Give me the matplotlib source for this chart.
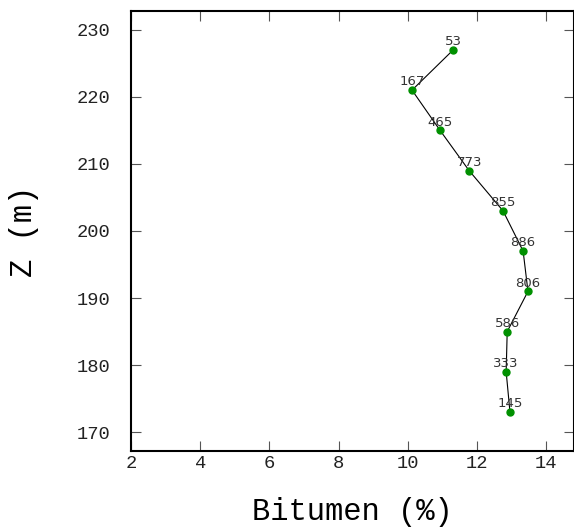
import numpy as np
import matplotlib
matplotlib.use('Agg')
import matplotlib.pyplot as plt

# Bitumen content profile along depth
bitumen = [11.31, 10.12, 10.93, 11.77, 12.75, 13.33, 13.47, 12.87, 12.84, 12.95]
z = [227, 221, 215, 209, 203, 197, 191, 185, 179, 173]
counts = [53, 167, 465, 773, 855, 886, 806, 586, 333, 145]

xticks = [2, 4, 6, 8, 10, 12, 14]
yticks = [170, 180, 190, 200, 210, 220, 230]

mono = 'Liberation Mono'

fig = plt.figure(figsize=(5.74, 5.32), dpi=100)
ax = fig.add_axes([131 / 574, 81 / 532, 443 / 574, 440 / 532])

ax.plot(bitumen, z, color='black', lw=0.8, zorder=2)
ax.plot(bitumen, z, 'o', color='#009000', ms=5, zorder=3)
for xv, yv, n in zip(bitumen, z, counts):
    ax.annotate(str(n), (xv, yv), xytext=(0, 3.5), textcoords='offset points',
                ha='center', va='baseline', fontsize=9.5, color='#333333')

ax.set_xlim(2, 14.8)
ax.set_ylim(167.2, 232.8)
ax.set_xticks(xticks)
ax.set_yticks(yticks)
ax.tick_params(direction='in', length=7.5, width=0.8, color='#555555',
               top=True, right=True, labelsize=13.5)
ax.tick_params(axis='x', pad=3)
ax.tick_params(axis='y', pad=15)
for lbl in ax.get_xticklabels() + ax.get_yticklabels():
    lbl.set_family(mono)
    lbl.set_color('#222222')

for s in ax.spines.values():
    s.set_linewidth(1.5)

ax.set_xlabel('Bitumen (%)', family=mono, fontsize=22, labelpad=18)
ax.set_ylabel('Z (m)', family=mono, fontsize=22, labelpad=27)

fig.savefig('out.png', dpi=100)
